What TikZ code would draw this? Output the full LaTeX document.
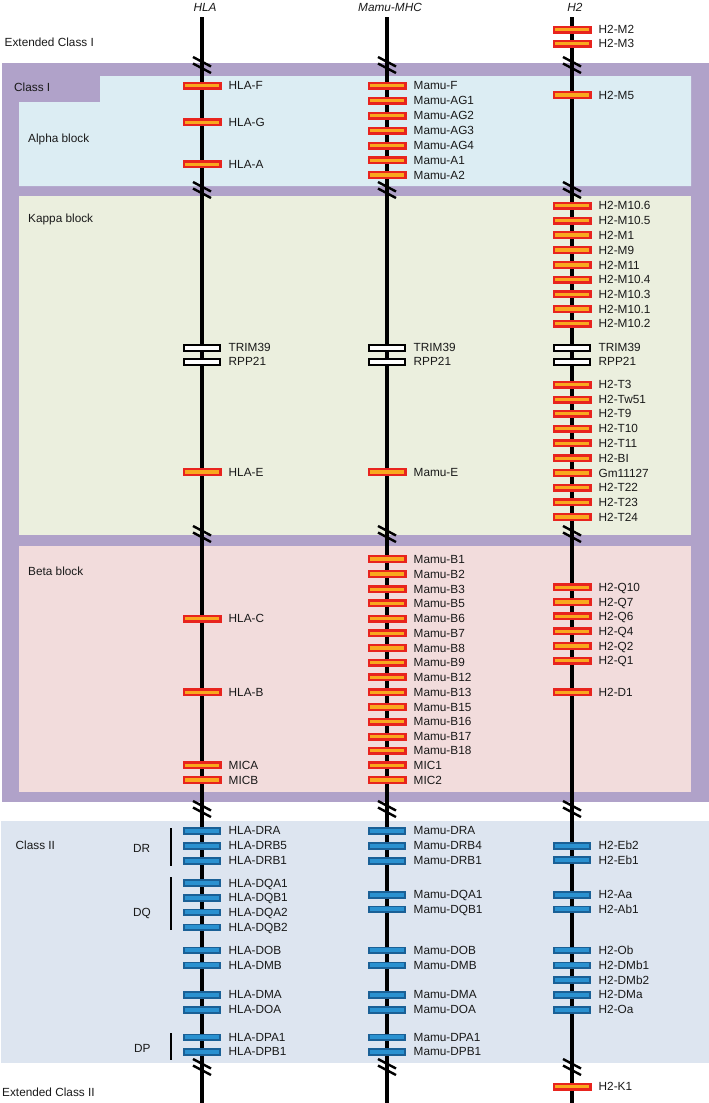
\documentclass[tikz,border=0pt]{standalone}
\usepackage{fontspec}
\setmainfont{Liberation Sans}
\definecolor{purp}{RGB}{176,162,201}
\definecolor{alphabg}{RGB}{220,237,243}
\definecolor{kappabg}{RGB}{235,239,222}
\definecolor{betabg}{RGB}{242,220,220}
\definecolor{classtwobg}{RGB}{221,229,240}
\definecolor{genered}{RGB}{232,36,30}
\definecolor{geneorange}{RGB}{249,168,30}
\definecolor{geneblue}{RGB}{42,145,208}
\definecolor{geneblueedge}{RGB}{26,96,150}
\newcommand\brkmark[1]{\draw[brk,shift={(#1)}] (-9,-8) -- (9,1.5) (-9,-1.5) -- (9,8);}
\begin{document}
\begin{tikzpicture}[x=1pt,y=-1pt,font=\fontsize{11.8}{14}\selectfont,
  genebox/.style={minimum width=36.6pt,minimum height=5.8pt,inner sep=0pt,outer sep=0pt},
  cone/.style={genebox,draw=genered,fill=geneorange,line width=2.4pt},
  ctwo/.style={genebox,draw=geneblueedge,fill=geneblue,line width=1.8pt},
  cwhite/.style={genebox,draw=black,fill=white,line width=2.2pt},
  glabel/.style={anchor=base west,inner sep=0pt,text=black!90},
  sidelabel/.style={anchor=base west,inner sep=0pt,text=black!90},
  coltitle/.style={font=\fontsize{11.8}{14}\selectfont\itshape,inner sep=0pt,text=black!90},
  chrom/.style={line width=3.6pt},
  brk/.style={line width=2.4pt},
  bracket/.style={line width=2pt}]
\useasboundingbox (0,0) rectangle (709,1103);
% backgrounds
\fill[purp] (2,63) rectangle (709,802);
\fill[alphabg] (100,76) -- (691,76) -- (691,186) -- (19,186) -- (19,102) -- (100,102) -- cycle;
\fill[kappabg] (19,196) rectangle (691,535);
\fill[betabg] (19,546) rectangle (691,792);
\fill[classtwobg] (1,821) rectangle (709,1063);
% chromosome lines
\coordinate (hlaTop) at (202,17);  \coordinate (hlaBot) at (202,1103);
\coordinate (mamuTop) at (387,17); \coordinate (mamuBot) at (387,1103);
\coordinate (htwoTop) at (572,17); \coordinate (htwoBot) at (572,1103);
\draw[chrom] (hlaTop) -- (hlaBot);
\draw[chrom] (mamuTop) -- (mamuBot);
\draw[chrom] (htwoTop) -- (htwoBot);
% titles
\node[coltitle] (tHLA) at (205,7) {HLA};
\node[coltitle] (tMamu) at (390,7) {Mamu-MHC};
\node[coltitle] (tH2) at (575,7) {H2};
% break marks
\foreach \bx in {202,387,572}{
  \foreach \by in {65,190,534,809,1067}{
    \brkmark{\bx,\by}
  }
}
% side labels
\node[sidelabel] (lExtI) at (4.5,46) {Extended Class I};
\node[sidelabel] (lClassI) at (14,91) {Class I};
\node[sidelabel] (lAlpha) at (28,142.5) {Alpha block};
\node[sidelabel] (lKappa) at (28,222.5) {Kappa block};
\node[sidelabel] (lBeta) at (28,575.5) {Beta block};
\node[sidelabel] (lClassII) at (15.5,849) {Class II};
\node[sidelabel] (lExtII) at (2,1096.5) {Extended Class II};
\node[sidelabel] (lDR) at (133,852.5) {DR};
\node[sidelabel] (lDQ) at (133,916) {DQ};
\node[sidelabel] (lDP) at (134,1052.5) {DP};
\coordinate (drTop) at (171,828);  \coordinate (drBot) at (171,866);
\coordinate (dqTop) at (171,877);  \coordinate (dqBot) at (171,930);
\coordinate (dpTop) at (171,1033); \coordinate (dpBot) at (171,1060);
\draw[bracket] (drTop) -- (drBot);
\draw[bracket] (dqTop) -- (dqBot);
\draw[bracket] (dpTop) -- (dpBot);
% genes: HLA
\foreach \gy/\gt [count=\i] in {85.7/HLA-F,122.3/HLA-G,164.3/HLA-A,472/HLA-E,618.7/HLA-C,692.3/HLA-B,765.3/MICA,780/MICB}{
  \node[cone] (hlaO\i) at (202,\gy) {};
  \node[glabel] (hlaOL\i) at ([shift={(8.2,4.2)}]hlaO\i.east) {\gt};
}
\foreach \gy/\gt [count=\i] in {347.7/TRIM39,361.7/RPP21}{
  \node[cwhite] (hlaW\i) at (202,\gy) {};
  \node[glabel] (hlaWL\i) at ([shift={(8.2,4.2)}]hlaW\i.east) {\gt};
}
\foreach \gy/\gt [count=\i] in {830.7/HLA-DRA,845.7/HLA-DRB5,860.7/HLA-DRB1,883/HLA-DQA1,897.7/HLA-DQB1,912.3/HLA-DQA2,927.3/HLA-DQB2,950.3/HLA-DOB,965.3/HLA-DMB,994.7/HLA-DMA,1009.7/HLA-DOA,1037.3/HLA-DPA1,1051.7/HLA-DPB1}{
  \node[ctwo] (hlaB\i) at (202,\gy) {};
  \node[glabel] (hlaBL\i) at ([shift={(8.2,4.2)}]hlaB\i.east) {\gt};
}
% genes: Mamu
\foreach \gy/\gt [count=\i] in {85.7/Mamu-F,100.7/Mamu-AG1,115.7/Mamu-AG2,130.7/Mamu-AG3,145.7/Mamu-AG4,160.3/Mamu-A1,175/Mamu-A2,472/Mamu-E,559/Mamu-B1,574/Mamu-B2,589.3/Mamu-B3,603.3/Mamu-B5,618.7/Mamu-B6,633.3/Mamu-B7,648/Mamu-B8,662.7/Mamu-B9,677.3/Mamu-B12,692.3/Mamu-B13,707/Mamu-B15,721.7/Mamu-B16,736.7/Mamu-B17,750.7/Mamu-B18,765.3/MIC1,780/MIC2}{
  \node[cone] (mamuO\i) at (387,\gy) {};
  \node[glabel] (mamuOL\i) at ([shift={(8.2,4.2)}]mamuO\i.east) {\gt};
}
\foreach \gy/\gt [count=\i] in {347.7/TRIM39,361.7/RPP21}{
  \node[cwhite] (mamuW\i) at (387,\gy) {};
  \node[glabel] (mamuWL\i) at ([shift={(8.2,4.2)}]mamuW\i.east) {\gt};
}
\foreach \gy/\gt [count=\i] in {830.7/Mamu-DRA,845.7/Mamu-DRB4,860.7/Mamu-DRB1,894.7/Mamu-DQA1,909.3/Mamu-DQB1,950.3/Mamu-DOB,965.3/Mamu-DMB,994.7/Mamu-DMA,1009.7/Mamu-DOA,1037.3/Mamu-DPA1,1051.7/Mamu-DPB1}{
  \node[ctwo] (mamuB\i) at (387,\gy) {};
  \node[glabel] (mamuBL\i) at ([shift={(8.2,4.2)}]mamuB\i.east) {\gt};
}
% genes: H2
\foreach \gy/\gt [count=\i] in {29.7/H2-M2,43.7/H2-M3,95/H2-M5,205.7/H2-M10.6,220.7/H2-M10.5,235/H2-M1,250/H2-M9,265/H2-M11,279.7/H2-M10.4,294.3/H2-M10.3,309/H2-M10.1,323.7/H2-M10.2,384.7/H2-T3,399.7/H2-Tw51,413.7/H2-T9,428.7/H2-T10,443.3/H2-T11,458.3/H2-BI,473/Gm11127,487.7/H2-T22,502.3/H2-T23,517/H2-T24,587.3/H2-Q10,602/H2-Q7,616.3/H2-Q6,631.3/H2-Q4,646/H2-Q2,660.7/H2-Q1,692.3/H2-D1,1086.7/H2-K1}{
  \node[cone] (htwoO\i) at (572,\gy) {};
  \node[glabel] (htwoOL\i) at ([shift={(8.2,4.2)}]htwoO\i.east) {\gt};
}
\foreach \gy/\gt [count=\i] in {347.7/TRIM39,361.7/RPP21}{
  \node[cwhite] (htwoW\i) at (572,\gy) {};
  \node[glabel] (htwoWL\i) at ([shift={(8.2,4.2)}]htwoW\i.east) {\gt};
}
\foreach \gy/\gt [count=\i] in {845.7/H2-Eb2,860/H2-Eb1,894.7/H2-Aa,909.3/H2-Ab1,950.3/H2-Ob,965.3/H2-DMb1,980/H2-DMb2,994.7/H2-DMa,1009.7/H2-Oa}{
  \node[ctwo] (htwoB\i) at (572,\gy) {};
  \node[glabel] (htwoBL\i) at ([shift={(8.2,4.2)}]htwoB\i.east) {\gt};
}
\end{tikzpicture}
\end{document}
